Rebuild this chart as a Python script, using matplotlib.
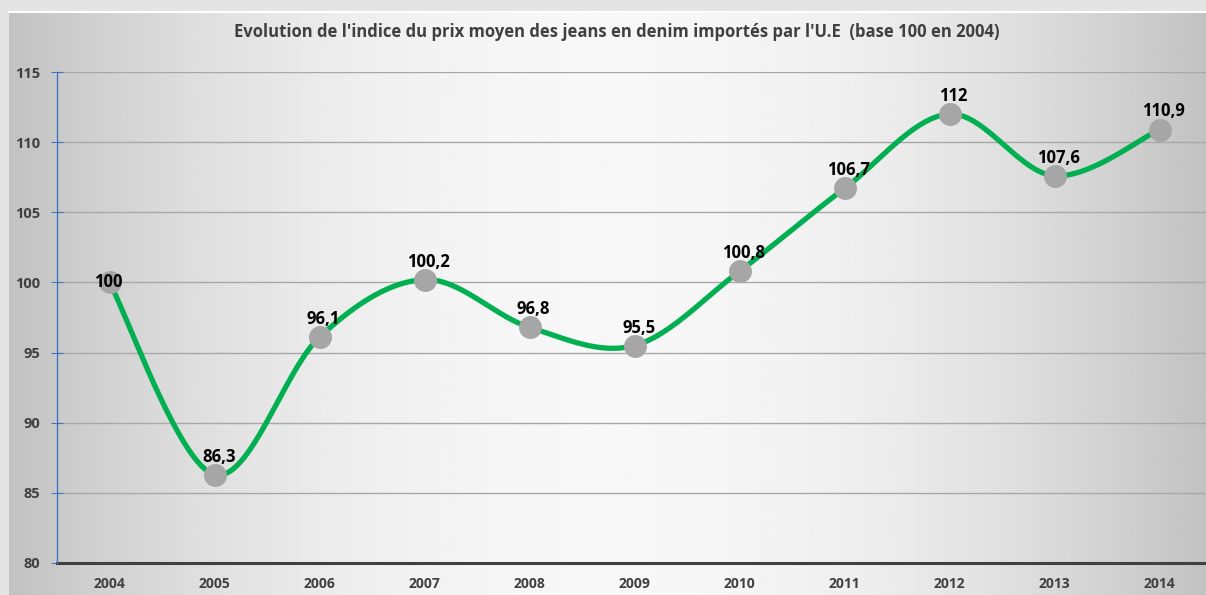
import matplotlib.pyplot as plt
import numpy as np

# donnees
annees = ['2004', '2005', '2006', '2007', '2008', '2009', '2010', '2011', '2012', '2013', '2014']
indice = [100, 86.3, 96.1, 100.2, 96.8, 95.5, 100.8, 106.7, 112, 107.6, 110.9]
etiquettes = ['100', '86,3', '96,1', '100,2', '96,8', '95,5', '100,8', '106,7', '112', '107,6', '110,9']
titre = "Evolution de l'indice du prix moyen des jeans en denim importés par l'U.E  (base 100 en 2004)"

plt.rcParams['font.family'] = ['Open Sans', 'DejaVu Sans']

fig = plt.figure(figsize=(12.06, 5.95), dpi=100)
fig.patch.set_facecolor('#e4e4e4')

# fond degrade (comme excel)
bg = fig.add_axes([9/1206, 0, 1 - 9/1206, 1 - 12/595])
g = np.linspace(0, 1, 400)
prof = 1 - 4 * (g - 0.5) ** 2
prof = 0.76 + 0.21 * prof
bg.imshow(np.tile(prof, (10, 1)), cmap='gray', vmin=0, vmax=1, aspect='auto',
          extent=[0, 1, 0, 1])
bg.set_axis_off()
fig.add_artist(plt.Line2D([9/1206, 1], [1 - 12/595, 1 - 12/595], color='white', lw=1.5))

ax = fig.add_axes([57/1206, 32/595, 1155/1206, 491/595])
ax.patch.set_alpha(0)

x = np.arange(len(annees))
y = np.array(indice)

# courbe lissee (catmull-rom / bezier comme excel)
xs, ys = [], []
n = len(x)
for i in range(n - 1):
    p0 = np.array([x[max(i - 1, 0)], y[max(i - 1, 0)]])
    p1 = np.array([x[i], y[i]])
    p2 = np.array([x[i + 1], y[i + 1]])
    p3 = np.array([x[min(i + 2, n - 1)], y[min(i + 2, n - 1)]])
    c1 = p1 + (p2 - p0) / 6
    c2 = p2 - (p3 - p1) / 6
    t = np.linspace(0, 1, 40)[:, None]
    b = (1 - t) ** 3 * p1 + 3 * (1 - t) ** 2 * t * c1 + 3 * (1 - t) * t ** 2 * c2 + t ** 3 * p2
    xs.extend(b[:, 0])
    ys.extend(b[:, 1])

ax.plot(xs, ys, color='#00b050', lw=3.8, solid_capstyle='round', zorder=3)
ax.plot(x, y, 'o', ms=15.5, color='#a6a6a6', zorder=4)

for i in range(n):
    if i == 0:
        dx, dy = -1, 0
    else:
        dx, dy = 3, 13
    ax.annotate(etiquettes[i], (x[i], y[i]), xytext=(dx, dy), textcoords='offset points',
                ha='center', va='center', fontsize=12, fontweight='bold', color='black', zorder=5)

ax.set_xlim(-0.5, 10.5)
ax.set_ylim(80, 115)
ax.set_yticks(range(80, 116, 5))
ax.set_xticks(x)
ax.set_xticklabels(annees)
ax.grid(axis='y', color='#a8a8a8', lw=1)
ax.set_axisbelow(True)

for s in ['top', 'right']:
    ax.spines[s].set_visible(False)
ax.spines['left'].set_color('#4472c4')
ax.spines['left'].set_linewidth(1)
ax.spines['bottom'].set_color('#404040')
ax.spines['bottom'].set_linewidth(2.2)
ax.spines['bottom'].set_zorder(2)

ax.tick_params(axis='y', direction='inout', length=8, color='#4472c4', labelsize=10.5,
               labelcolor='#404040', pad=8)
ax.tick_params(axis='x', length=0, labelsize=10, labelcolor='#404040', pad=10)
for lab in ax.get_xticklabels() + ax.get_yticklabels():
    lab.set_fontweight('bold')

fig.text(617/1206, 1 - 32/595, titre, ha='center', va='center', fontsize=12,
         fontweight='bold', color='#404040')

fig.savefig('out.png', dpi=100, facecolor=fig.get_facecolor())
